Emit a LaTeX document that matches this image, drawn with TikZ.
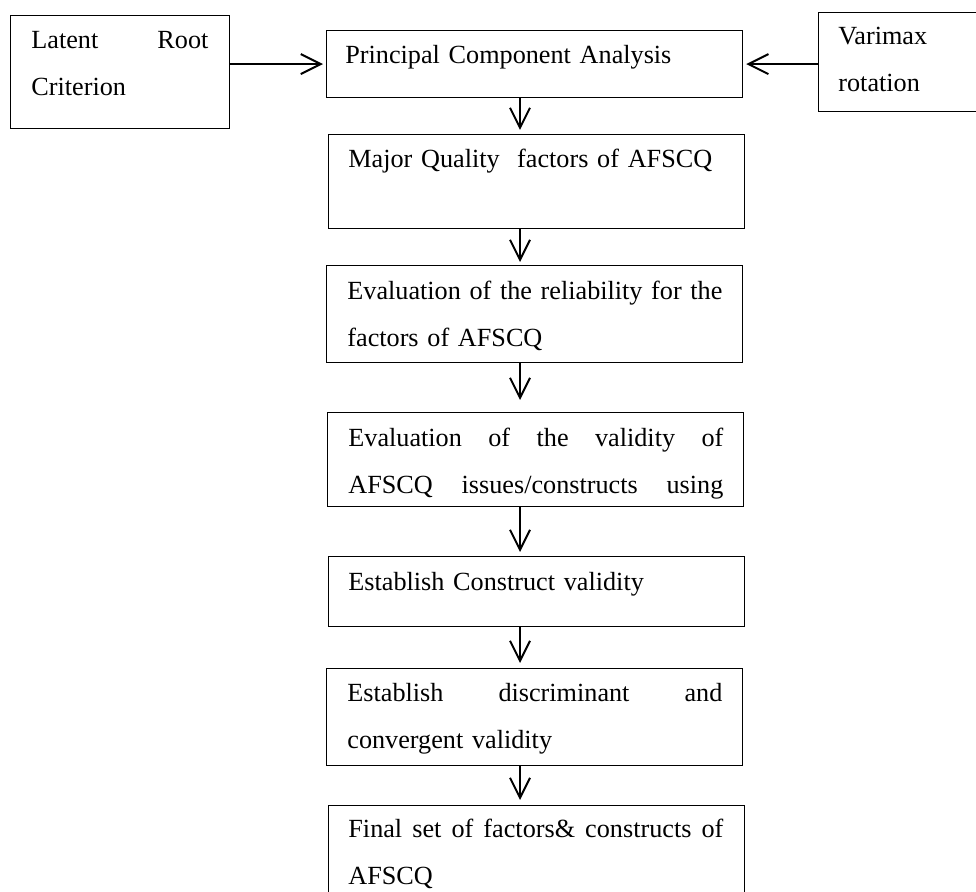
\documentclass[tikz,border=0pt]{standalone}
\usepackage{fontspec}
\setmainfont{Liberation Serif}
\usetikzlibrary{arrows.meta}

\tikzset{
	box/.style={draw, line width=0.6pt, inner sep=0pt, anchor=north west, minimum width=208pt},
	txt/.style={anchor=base west, inner sep=0pt, text width=187.5pt, align=left,
		font=\fontsize{13.1}{23.5}\selectfont},
	flow/.style={line width=1pt, -{Straight Barb[length=10pt, width=10pt, line width=1pt]}}
}

\begin{document}
\begin{tikzpicture}[x=0.5pt, y=-0.5pt]
			%%%%% START %%%%%
			
			\useasboundingbox (0, 0) rectangle (976, 892);
			
			% side boxes
			\node[box, minimum width=109.5pt, minimum height=56.5pt] (latent) at (10, 15) {};
			\node[box, minimum width=81pt, minimum height=49.5pt] (varimax) at (818, 12) {};
			
			% main column
			\node[box, minimum height=33.5pt] (pca) at (326, 30) {};
			\node[box, minimum height=47pt] (major) at (328, 134) {};
			\node[box, minimum height=48.5pt] (reliab) at (326, 265) {};
			\node[box, minimum height=47pt] (valid) at (327, 412) {};
			\node[box, minimum height=35pt] (construct) at (328, 556) {};
			\node[box, minimum height=48.5pt] (discrim) at (326, 668) {};
			\node[box, minimum height=47.5pt] (final) at (328, 805) {};
			
			% texts
			\node[txt, text width=88.5pt] (latentt) at ([shift={(21, 34)}]latent.north west) {Latent\hfill Root\\Criterion};
			\node[txt, text width=70pt] (varimaxt) at ([shift={(20, 33)}]varimax.north west) {Varimax\\rotation};
			\node[txt] (pcat) at ([shift={(19, 34)}]pca.north west) {Principal Component Analysis};
			\node[txt] (majort) at ([shift={(20, 34)}]major.north west) {Major Quality \ factors of AFSCQ};
			\node[txt] (reliabt) at ([shift={(21, 35)}]reliab.north west) {Evaluation\hfill of\hfill the\hfill reliability\hfill for\hfill the\\factors of AFSCQ};
			\node[txt] (validt) at ([shift={(21, 35)}]valid.north west) {Evaluation\hfill of\hfill the\hfill validity\hfill of\\AFSCQ\hfill issues/constructs\hfill using};
			\node[txt] (constructt) at ([shift={(20, 35)}]construct.north west) {Establish Construct validity};
			\node[txt] (discrimt) at ([shift={(21, 34)}]discrim.north west) {Establish\hfill discriminant\hfill and\\convergent validity};
			\node[txt] (finalt) at ([shift={(20, 33)}]final.north west) {Final\hfill set\hfill of\hfill factors\&\hfill constructs\hfill of\\AFSCQ};
			
			% arrows
			\coordinate (ax) at (520, 0);
			\draw[flow, shorten >=1.5pt] (latent.east |- pca.west) -- (pca.west);
			\draw[flow, shorten >=1.5pt] (varimax.west |- pca.east) -- (pca.east);
			\draw[flow, shorten >=2pt] (pca.south -| ax) -- (major.north -| ax);
			\draw[flow, shorten >=1.5pt] (major.south -| ax) -- (reliab.north -| ax);
			\draw[flow, shorten >=6pt] (reliab.south -| ax) -- (valid.north -| ax);
			\draw[flow, shorten >=2pt] (valid.south -| ax) -- (construct.north -| ax);
			\draw[flow, shorten >=2.5pt] (construct.south -| ax) -- (discrim.north -| ax);
			\draw[flow, shorten >=2.5pt] (discrim.south -| ax) -- (final.north -| ax);
			
			%%%%% END %%%%%
\end{tikzpicture}
\end{document}
